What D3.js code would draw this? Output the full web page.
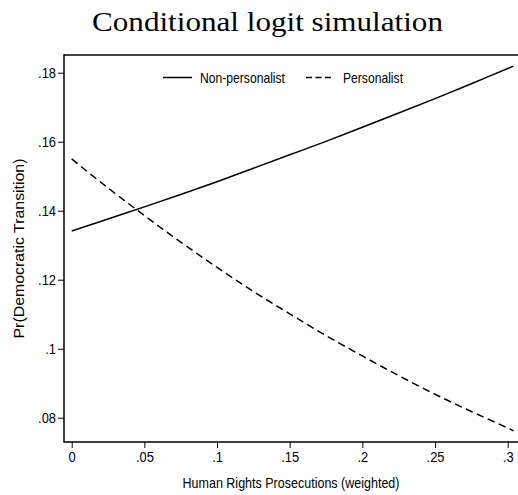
<!DOCTYPE html>
<html>
<head>
<meta charset="utf-8">
<script src="https://cdn.jsdelivr.net/npm/d3@7"></script>
<style>
  html, body { margin: 0; padding: 0; background: #fff; }
  svg { display: block; }
  .sans { font-family: "Liberation Sans", Arial, Helvetica, sans-serif; }
</style>
</head>
<body>
<svg id="chart" width="518" height="495"></svg>
<script>
// ---- data ----
const xValues = [0, 0.025, 0.05, 0.075, 0.1, 0.125, 0.15, 0.175, 0.2, 0.225, 0.25, 0.275, 0.3, 0.304];
const nonPersonalist = [0.1341, 0.1376, 0.1411, 0.1447, 0.1484, 0.1523, 0.1562, 0.1601, 0.1642, 0.1683, 0.1725, 0.1768, 0.1812, 0.1819];
const personalist = [0.1550, 0.1466, 0.1386, 0.1309, 0.1236, 0.1166, 0.1101, 0.1038, 0.0979, 0.0922, 0.0868, 0.0818, 0.0770, 0.0762];
const xTicks = [0, 0.05, 0.1, 0.15, 0.2, 0.25, 0.3];
const xTickLabels = ["0", ".05", ".1", ".15", ".2", ".25", ".3"];
const yTicks = [0.08, 0.1, 0.12, 0.14, 0.16, 0.18];
const yTickLabels = [".08", ".1", ".12", ".14", ".16", ".18"];
const seriesNames = ["Non-personalist", "Personalist"];
const titleText = "Conditional logit simulation";
const xTitle = "Human Rights Prosecutions (weighted)";
const yTitle = "Pr(Democratic Transition)";

// ---- layout ----
const svg = d3.select("#chart");
const frame = { left: 64, top: 55, right: 518, bottom: 442 };
const x = d3.scaleLinear().domain([0, 0.3]).range([71.7, 507.7]);
const y = d3.scaleLinear().domain([0.08, 0.18]).range([417.7, 72.7]);

// condense sans text horizontally (reference uses a narrow Helvetica-like face)
function condense(sel, factor) {
  sel.each(function () {
    const w = this.getComputedTextLength();
    d3.select(this).attr("textLength", w * factor).attr("lengthAdjust", "spacingAndGlyphs");
  });
}

// title
svg.append("text")
  .attr("x", 267.5).attr("y", 31)
  .attr("text-anchor", "middle")
  .attr("font-family", "'Liberation Serif', 'DejaVu Serif', serif")
  .attr("font-size", 27)
  .attr("textLength", 351).attr("lengthAdjust", "spacingAndGlyphs")
  .attr("fill", "#000")
  .text(titleText);

// frame lines (left, top)
const fg = svg.append("g").attr("stroke", "#000").attr("stroke-width", 1.5).attr("fill", "none");
fg.append("line").attr("x1", frame.left).attr("x2", frame.left).attr("y1", frame.top - 0.75).attr("y2", frame.bottom + 0.75);
fg.append("line").attr("x1", frame.left).attr("x2", frame.right).attr("y1", frame.top).attr("y2", frame.top);

// x axis
const xAxis = d3.axisBottom(x).tickValues(xTicks).tickFormat((d, i) => xTickLabels[i]).tickSize(6).tickPadding(3);
const gx = svg.append("g").attr("transform", `translate(0,${frame.bottom})`).call(xAxis);
gx.select(".domain").remove();
gx.append("line").attr("x1", frame.left).attr("x2", frame.right).attr("y1", 0).attr("y2", 0).attr("stroke", "#000").attr("stroke-width", 1.5);
gx.selectAll(".tick line").attr("stroke", "#000").attr("stroke-width", 1);
gx.selectAll(".tick text").attr("class", "sans").attr("font-size", 15).attr("fill", "#000").call(condense, 0.86);

// y axis
const yAxis = d3.axisLeft(y).tickValues(yTicks).tickFormat((d, i) => yTickLabels[i]).tickSize(6).tickPadding(2);
const gy = svg.append("g").attr("transform", `translate(${frame.left},0)`).call(yAxis);
gy.select(".domain").remove();
gy.selectAll(".tick line").attr("stroke", "#000").attr("stroke-width", 1);
gy.selectAll(".tick text").attr("class", "sans").attr("font-size", 15).attr("fill", "#000").call(condense, 0.86);

// axis titles
svg.append("text").attr("class", "sans")
  .attr("x", 291).attr("y", 488)
  .attr("text-anchor", "middle").attr("font-size", 15)
  .attr("textLength", 217).attr("lengthAdjust", "spacingAndGlyphs")
  .text(xTitle);
svg.append("text").attr("class", "sans")
  .attr("transform", "translate(24,248.5) rotate(-90)")
  .attr("text-anchor", "middle").attr("font-size", 15)
  .attr("textLength", 180).attr("lengthAdjust", "spacingAndGlyphs")
  .text(yTitle);

// lines
const line = d3.line().x((d, i) => x(xValues[i])).y(d => y(d)).curve(d3.curveMonotoneX);
svg.append("path").datum(nonPersonalist).attr("d", line)
  .attr("fill", "none").attr("stroke", "#000").attr("stroke-width", 1.5);
svg.append("path").datum(personalist).attr("d", line)
  .attr("fill", "none").attr("stroke", "#000").attr("stroke-width", 1.5)
  .attr("stroke-dasharray", "7.5,4.5");

// legend
const lg = svg.append("g");
lg.append("line").attr("x1", 163).attr("x2", 192).attr("y1", 77.5).attr("y2", 77.5)
  .attr("stroke", "#000").attr("stroke-width", 1.5);
lg.append("text").attr("class", "sans").attr("x", 200).attr("y", 82.5).attr("font-size", 14.5)
  .attr("textLength", 85).attr("lengthAdjust", "spacingAndGlyphs").text(seriesNames[0]);
lg.append("line").attr("x1", 306).attr("x2", 331).attr("y1", 77.5).attr("y2", 77.5)
  .attr("stroke", "#000").attr("stroke-width", 1.5).attr("stroke-dasharray", "6,3.5");
lg.append("text").attr("class", "sans").attr("x", 343).attr("y", 82.5).attr("font-size", 14.5)
  .attr("textLength", 60).attr("lengthAdjust", "spacingAndGlyphs").text(seriesNames[1]);
</script>
</body>
</html>
